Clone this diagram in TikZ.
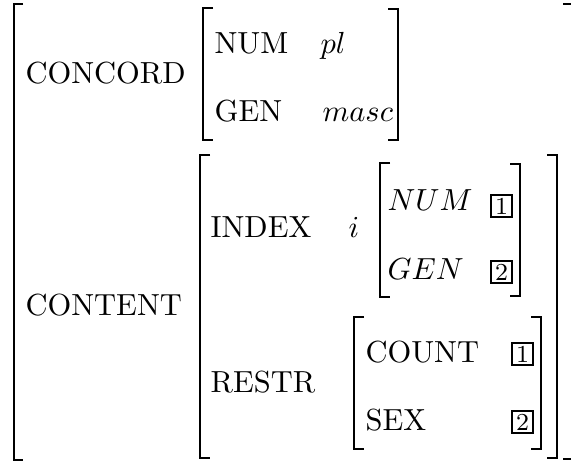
\documentclass[tikz,border=0pt]{standalone}
\begin{document}
\begin{tikzpicture}[x=0.3279pt,y=-0.3279pt,
  brk/.style={line width=0.66pt},
  lbl/.style={anchor=base west, inner sep=0pt},
  tag/.style={draw, line width=0.66pt, inner sep=0pt, minimum size=6.9pt, font=\footnotesize}]
\path[use as bounding box, clip] (0,0) rectangle (571,463);
% outer brackets
\draw[brk] (23,4) -- (14,4) -- (14,460) -- (23,460);
\draw[brk] (563,4) -- (575,4) -- (575,459) -- (563,459);
% CONCORD
\node[lbl] (concord) at (25,83) {CONCORD};
\draw[brk] (213,8) -- (203,8) -- (203,140) -- (213,140);
\draw[brk] (388,9) -- (398,9) -- (398,140) -- (388,140);
\node[lbl] (num) at (214,53) {NUM};
\node[lbl] (pl) at (320,53) {$pl$};
\node[lbl] (gen) at (214,121) {GEN};
\node[lbl] (masc) at (322,121) {$masc$};
% CONTENT
\node[lbl] (content) at (25,315) {CONTENT};
\draw[brk] (210,155) -- (200,155) -- (200,458) -- (210,458);
\draw[brk] (547,155) -- (557,155) -- (557,458) -- (547,458);
\node[lbl] (index) at (210,237) {INDEX};
\node[lbl] (i) at (348,237) {$i$};
\draw[brk] (390,163) -- (380,163) -- (380,297) -- (390,297);
\draw[brk] (510,164) -- (520,164) -- (520,296) -- (510,296);
\node[lbl] (inum) at (387,210) {$NUM$};
\node[tag] (t1a) at (501.5,206) {1};
\node[lbl] (igen) at (387,279) {$GEN$};
\node[tag] (t2a) at (501.5,272) {2};
\node[lbl] (restr) at (210,392) {RESTR};
\draw[brk] (364,317) -- (354,317) -- (354,449) -- (364,449);
\draw[brk] (531,317) -- (541,317) -- (541,449) -- (531,449);
\node[lbl] (count) at (365,362) {COUNT};
\node[tag] (t1b) at (522.5,354) {1};
\node[lbl] (sex) at (365,430) {SEX};
\node[tag] (t2b) at (522.5,422) {2};
\end{tikzpicture}
\end{document}
